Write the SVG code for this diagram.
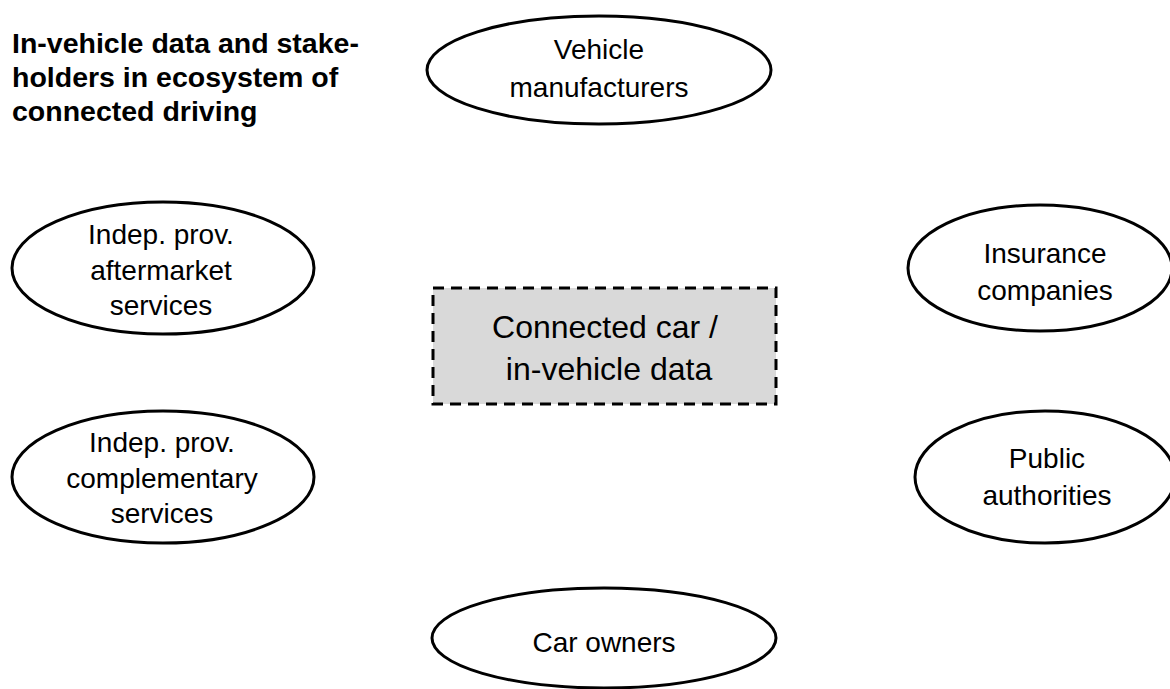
<svg xmlns="http://www.w3.org/2000/svg" width="1170" height="689" viewBox="0 0 1170 689">
<style>
.node ellipse{fill:#fff;stroke:#000;stroke-width:3}
.t{font-family:"Liberation Sans",Arial,sans-serif;font-size:28px;fill:#000;text-anchor:middle}
.title{font-family:"Liberation Sans",Arial,sans-serif;font-size:28.5px;font-weight:bold;fill:#000}
</style>
<rect width="1170" height="689" fill="#fff"/>
<g id="title">
<text class="title" x="12" y="53">In-vehicle data and stake-</text>
<text class="title" x="12" y="87">holders in ecosystem of</text>
<text class="title" x="12" y="121">connected driving</text>
</g>
<g id="connectors"></g>
<g id="center" class="node">
<rect x="433" y="288" width="343" height="116" fill="#d9d9d9" stroke="#000" stroke-width="3" stroke-dasharray="11 7"/>
<text class="t" x="605" y="338" style="font-size:32px">Connected car /</text>
<text class="t" x="609" y="380" style="font-size:32px">in-vehicle data</text>
</g>
<g id="vehicle-manufacturers" class="node">
<ellipse cx="599" cy="70" rx="172" ry="54"/>
<text class="t" x="599" y="59">Vehicle</text>
<text class="t" x="599" y="97">manufacturers</text>
</g>
<g id="aftermarket" class="node">
<ellipse cx="163" cy="268" rx="151" ry="66"/>
<text class="t" x="161" y="244">Indep. prov.</text>
<text class="t" x="161" y="280">aftermarket</text>
<text class="t" x="161" y="315">services</text>
</g>
<g id="complementary" class="node">
<ellipse cx="163" cy="477" rx="151" ry="66"/>
<text class="t" x="162" y="452">Indep. prov.</text>
<text class="t" x="162" y="488">complementary</text>
<text class="t" x="162" y="523">services</text>
</g>
<g id="insurance" class="node">
<ellipse cx="1040" cy="268" rx="132" ry="63"/>
<text class="t" x="1045" y="263">Insurance</text>
<text class="t" x="1045" y="300">companies</text>
</g>
<g id="public" class="node">
<ellipse cx="1045" cy="477" rx="130" ry="66"/>
<text class="t" x="1047" y="468">Public</text>
<text class="t" x="1047" y="505">authorities</text>
</g>
<g id="car-owners" class="node">
<ellipse cx="604" cy="638" rx="172" ry="50"/>
<text class="t" x="604" y="652">Car owners</text>
</g>
</svg>
